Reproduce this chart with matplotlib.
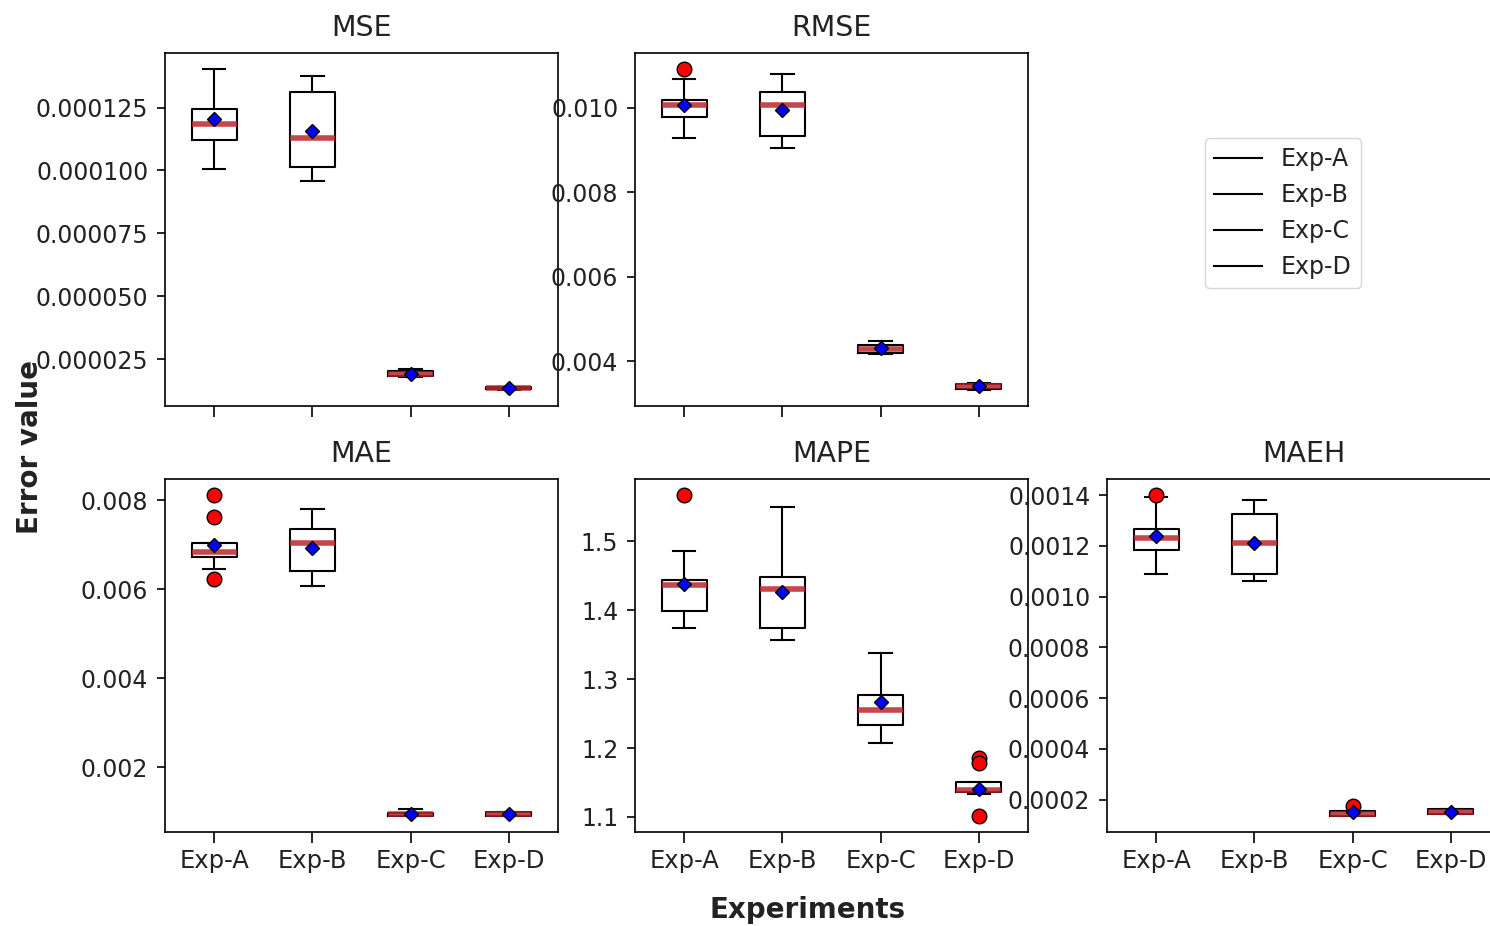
import matplotlib
matplotlib.use("Agg")
import matplotlib.pyplot as plt
from matplotlib.lines import Line2D

experiments = ["Exp-A", "Exp-B", "Exp-C", "Exp-D"]

# box statistics, one list per statistic (Exp-A..Exp-D)
mse_whislo = [0.0001005, 0.0000958, 0.0000178, 0.0000127]
mse_q1 = [0.0001120, 0.0001015, 0.0000182, 0.0000130]
mse_med = [0.0001186, 0.0001129, 0.0000191, 0.0000134]
mse_q3 = [0.0001245, 0.0001311, 0.0000204, 0.0000138]
mse_whishi = [0.0001403, 0.0001374, 0.0000210, 0.0000140]
mse_mean = [0.0001203, 0.0001156, 0.0000191, 0.0000134]
mse_fliers = [[], [], [], []]

rmse_whislo = [0.009278, 0.009052, 0.004165, 0.003327]
rmse_q1 = [0.009781, 0.009325, 0.004204, 0.003348]
rmse_med = [0.010071, 0.010070, 0.004298, 0.003419]
rmse_q3 = [0.010172, 0.010360, 0.004384, 0.003475]
rmse_whishi = [0.010682, 0.010800, 0.004494, 0.003490]
rmse_mean = [0.010054, 0.009953, 0.004322, 0.003419]
rmse_fliers = [[0.01091], [], [], []]

mae_whislo = [0.006443, 0.006067, 0.000906, 0.000915]
mae_q1 = [0.006712, 0.006404, 0.000906, 0.000915]
mae_med = [0.006838, 0.007040, 0.000944, 0.000960]
mae_q3 = [0.007040, 0.007342, 0.000982, 0.000996]
mae_whishi = [0.007040, 0.007790, 0.001072, 0.001000]
mae_mean = [0.006989, 0.006928, 0.000960, 0.000960]
mae_fliers = [[0.008112, 0.007625, 0.006218], [], [], []]

mape_whislo = [1.3749, 1.3569, 1.2070, 1.1340]
mape_q1 = [1.3993, 1.3749, 1.2338, 1.1365]
mape_med = [1.4372, 1.4309, 1.2557, 1.1390]
mape_q3 = [1.4445, 1.4479, 1.2777, 1.1511]
mape_whishi = [1.4864, 1.5492, 1.3384, 1.1511]
mape_mean = [1.4382, 1.4260, 1.2664, 1.1404]
mape_fliers = [[1.5672], [], [], [1.1861, 1.1778, 1.1015]]

maeh_whislo = [0.001089, 0.001060, 0.000136, 0.000144]
maeh_q1 = [0.001183, 0.001090, 0.000136, 0.000144]
maeh_med = [0.001230, 0.001213, 0.0001424, 0.000152]
maeh_q3 = [0.0012655, 0.001324, 0.000154, 0.000162]
maeh_whishi = [0.001391, 0.001380, 0.000154, 0.000162]
maeh_mean = [0.001239, 0.001213, 0.0001518, 0.000152]
maeh_fliers = [[0.0014], [], [0.0001753], []]

metrics = [
    ("MSE", mse_whislo, mse_q1, mse_med, mse_q3, mse_whishi, mse_mean, mse_fliers),
    ("RMSE", rmse_whislo, rmse_q1, rmse_med, rmse_q3, rmse_whishi, rmse_mean, rmse_fliers),
    ("MAE", mae_whislo, mae_q1, mae_med, mae_q3, mae_whishi, mae_mean, mae_fliers),
    ("MAPE", mape_whislo, mape_q1, mape_med, mape_q3, mape_whishi, mape_mean, mape_fliers),
    ("MAEH", maeh_whislo, maeh_q1, maeh_med, maeh_q3, maeh_whishi, maeh_mean, maeh_fliers),
]

W, H = 1490, 926
fig = plt.figure(figsize=(W / 100, H / 100), dpi=100)

lefts = [165, 635, 1107]
tops = [53, 479]
aw, ah = 393, 353
slots = [(0, 0), (0, 1), (1, 0), (1, 1), (1, 2)]

for (name, wlo, q1, med, q3, whi, mean, fl), (r, c) in zip(metrics, slots):
    ax = fig.add_axes([lefts[c] / W, 1 - (tops[r] + ah) / H, aw / W, ah / H])
    stats = []
    for i in range(4):
        stats.append(dict(whislo=wlo[i], q1=q1[i], med=med[i], q3=q3[i],
                          whishi=whi[i], mean=mean[i], fliers=fl[i], label=experiments[i]))
    ax.bxp(stats, widths=0.46, showmeans=True,
           boxprops=dict(color="black", linewidth=1.5),
           whiskerprops=dict(color="black", linewidth=1.5),
           capprops=dict(color="black", linewidth=1.5),
           medianprops=dict(color="#b8282d", linewidth=4, alpha=0.85),
           meanprops=dict(marker="D", markerfacecolor="blue", markeredgecolor="black",
                          markersize=7.5),
           flierprops=dict(marker="o", markerfacecolor="red", markeredgecolor="black",
                           markersize=10.5))
    ax.set_title(name, fontsize=20.5, color="#222222", pad=12)
    ax.tick_params(axis="y", labelsize=17, length=6, width=1.2, pad=6,
                   labelcolor="#222222")
    ax.tick_params(axis="x", labelsize=17.5, length=8, width=1.2, pad=4,
                   labelcolor="#222222")
    if r == 0:
        ax.set_xticklabels([])
    for s in ax.spines.values():
        s.set_linewidth(1.2)

# empty slot holding the legend
handles = [Line2D([], [], color="black", linewidth=1.5) for _ in experiments]
leg = fig.legend(handles, experiments, loc="upper left", fontsize=17,
                 bbox_to_anchor=(1205 / W, 1 - 138 / H), borderaxespad=0)
for t in leg.get_texts():
    t.set_color("#222222")

fig.text(30 / W, 1 - 447 / H, "Error value", rotation=90, fontsize=20,
         fontweight="bold", ha="center", va="center", color="#222222")
fig.text(808 / W, 1 - 910 / H, "Experiments", fontsize=20,
         fontweight="bold", ha="center", va="center", color="#222222")

fig.savefig("out.png", dpi=100)
